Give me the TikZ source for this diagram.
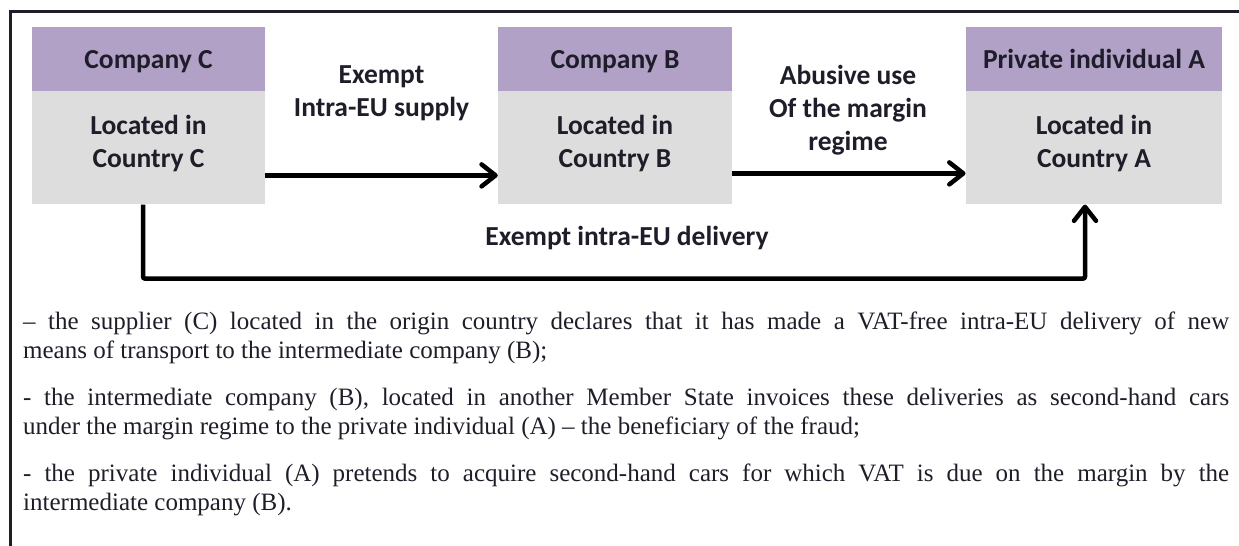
\documentclass[tikz,border=0pt]{standalone}
\usepackage{fontspec}
\setmainfont{Liberation Serif}
\newfontfamily\calibfont{Carlito}
\usetikzlibrary{positioning, arrows.meta}

\definecolor{headpurple}{HTML}{B2A1C7}
\definecolor{bodygray}{HTML}{DDDDDD}
\definecolor{inkdark}{HTML}{1E1E2A}

\begin{document}
\begin{tikzpicture}[x=1bp, y=-1bp,
  head/.style = {fill=headpurple, minimum height=64bp, inner sep=0pt, text depth=0pt, text=inkdark,
                 font=\calibfont\fontsize{27.5bp}{33bp}\selectfont\bfseries},
  body/.style = {fill=bodygray, minimum height=113bp, inner sep=0pt, align=center, text=inkdark,
                 text height=76bp, text depth=37bp,
                 font=\calibfont\fontsize{27.5bp}{33bp}\selectfont\bfseries},
  lbl/.style = {align=center, inner sep=0pt, text=inkdark,
                font=\calibfont\fontsize{27.5bp}{33bp}\selectfont\bfseries},
  flow/.style = {line width=4.5bp, -{Straight Barb[round, length=14bp, width=22bp]}},
  para/.style = {anchor=north west, inner sep=0pt, text width=1206bp, align=justify, text=inkdark,
                 font=\fontsize{25bp}{29bp}\selectfont}]
\useasboundingbox (0,0) rectangle (1239,546);
% frame
\draw[line width=2.5bp, color=inkdark] (10.5,546) -- (10.5,11.5) -- (1239,11.5);

% the three parties
\node[head, minimum width=233bp] (h1) at (148.5,59) {Company C};
\node[body, minimum width=233bp, below=0pt of h1] (b1) {Located in\\Country C};
\node[head, minimum width=234bp] (h2) at (615,59) {Company B};
\node[body, minimum width=234bp, below=0pt of h2] (b2) {Located in\\Country B};
\node[head, minimum width=256.5bp] (h3) at (1094,59) {Private individual A};
\node[body, minimum width=256.5bp, below=0pt of h3] (b3) {Located in\\Country A};

% flows
\node[lbl] (l1) at (381.5,93) {Exempt\\Intra-EU supply};
\node[lbl] (l2) at (848,110) {Abusive use\\Of the margin\\regime};
\node[lbl] (l3) at (627,238) {Exempt intra-EU delivery};
\draw[flow] ([yshift=-27.5bp]b1.east) -- ([yshift=-27.5bp]b2.west);
\draw[flow] ([yshift=-25.5bp]b2.east) -- ([yshift=-25.5bp]b3.west);
\draw[flow, rounded corners=2bp] ([xshift=-5.5bp]b1.south) -- ++(0,74) -| ([xshift=-9bp]b3.south);

% explanation
\node[para] (p1) at (23,308.7) {\strut -- the supplier (C) located in the origin country declares that it has made a VAT-free intra-EU delivery of new\linebreak means of transport to the intermediate company (B);};
\node[para] (p2) at (23,384.7) {\strut - the intermediate company (B), located in another Member State invoices these deliveries as second-hand cars\linebreak under the margin regime to the private individual (A) -- the beneficiary of the fraud;};
\node[para] (p3) at (23,460.7) {\strut - the private individual (A) pretends to acquire second-hand cars for which VAT is due on the margin by the\linebreak intermediate company (B).};
\end{tikzpicture}
\end{document}
